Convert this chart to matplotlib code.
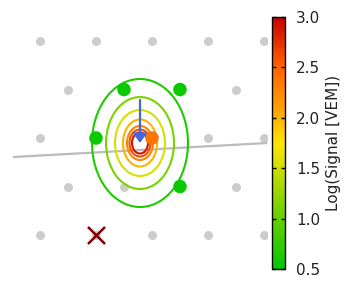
import numpy as np
import matplotlib
matplotlib.use("Agg")
import matplotlib.pyplot as plt
from matplotlib.colors import LinearSegmentedColormap, Normalize
from matplotlib.patches import Ellipse
import matplotlib.cm as cm

# ---- data (units of station spacing) ----
H = np.sqrt(3) / 2
grid_x = [-2, -1, 0, 1, 2,
          -1.5, 1.5,
          -2, 2, 1,
          -1.5, -0.5, 1.5,
          -2, -1, 0, 1, 2]
grid_y = [2*H]*5 + [H]*2 + [0]*3 + [-H]*3 + [-2*H]*5

trig_x = [-0.5, 0.5, -1, 0, 0.5]
trig_y = [H, H, 0, 0, -H]
trig_logS = [0.55, 0.55, 0.55, 2.4, 0.55]

bad_x = [-1]
bad_y = [-2*H]

core = (-0.214, -0.089)
levels = [0.65, 1.1, 1.55, 2.0, 2.3, 2.6, 2.9]
semi_x = [0.857, 0.607, 0.446, 0.304, 0.232, 0.188, 0.143]
semi_y = [1.143, 0.821, 0.589, 0.420, 0.304, 0.241, 0.188]

arrow_start = (-0.214, 0.68)
axis_line_x = [-3.0, 3.0]
axis_line_y = [-0.368, -0.037]

vmin, vmax = 0.5, 3.0
cbar_ticks = [0.5, 1.0, 1.5, 2.0, 2.5, 3.0]

cmap = LinearSegmentedColormap.from_list(
    "gyr", [(0.0, "#00c800"), (0.25, "#7fd200"), (0.5, "#ffe600"),
            (0.62, "#ffa800"), (0.8, "#ff6400"), (1.0, "#c80000")])
norm = Normalize(vmin, vmax)

fig = plt.figure(figsize=(3.6, 3.0), dpi=100)
ax = fig.add_axes([13/360, 31/300, 254/360, 252/300])
ax.set_xlim(core[0] - 127/56, core[0] + 127/56)
ax.set_ylim(core[1] - 126/56, core[1] + 126/56)
ax.axis("off")

ax.scatter(grid_x, grid_y, s=42, c="#cccccc", linewidths=0, zorder=1)
ax.plot(axis_line_x, axis_line_y, color="#bbbbbb", lw=1.6, zorder=2)

for lv, a, b in zip(levels, semi_x, semi_y):
    ax.add_patch(Ellipse(core, 2*a, 2*b, fill=False, lw=1.5,
                         edgecolor=cmap(norm(lv)), zorder=3))

ax.scatter(trig_x, trig_y, s=95, c=[cmap(norm(v)) for v in trig_logS],
           linewidths=0, zorder=4)

ax.annotate("", xy=core, xytext=arrow_start,
            arrowprops=dict(arrowstyle="-|>,head_length=0.55,head_width=0.4",
                            color="#4169e1", lw=1.6, shrinkA=0, shrinkB=0),
            zorder=5)

ax.scatter(bad_x, bad_y, marker="x", s=150, c="#800000", linewidths=1.8, zorder=6)

cax = fig.add_axes([272/360, 31/300, 13/360, 252/300])
cb = fig.colorbar(cm.ScalarMappable(norm=norm, cmap=cmap), cax=cax)
cb.set_ticks(cbar_ticks)
cb.ax.set_yticklabels([f"{t:.1f}" for t in cbar_ticks], fontsize=11, color="#222222")
cb.ax.tick_params(direction="in", length=3, width=1, left=True, right=True, pad=8)
cb.outline.set_linewidth(1)
cb.set_label("Log(Signal [VEM])", fontsize=11, color="#222222", labelpad=4)

fig.savefig("out.png", dpi=100)
